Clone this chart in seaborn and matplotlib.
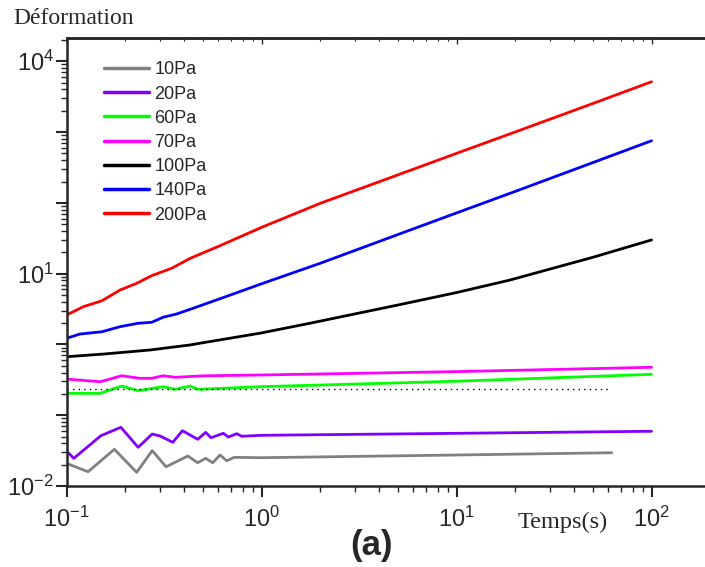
import matplotlib
matplotlib.use("Agg")
import matplotlib.pyplot as plt
from matplotlib.ticker import LogLocator, NullFormatter
import numpy as np
import pandas as pd
import seaborn as sns

# creep curves: time (s) -> deformation
x_10 = [0.1, 0.129, 0.176, 0.229, 0.275, 0.324, 0.419, 0.471, 0.517, 0.562, 0.613, 0.663, 0.725, 1.0, 10, 62.5]
y_10 = [0.0209, 0.0159, 0.033, 0.0156, 0.0316, 0.0187, 0.0265, 0.0213, 0.0246, 0.0213, 0.0274, 0.0227, 0.0254, 0.0251, 0.0274, 0.0295]

x_20 = [0.1, 0.109, 0.150, 0.19, 0.233, 0.275, 0.302, 0.351, 0.393, 0.471, 0.517, 0.551, 0.637, 0.676, 0.746, 0.791, 1.0, 10, 100]
y_20 = [0.0312, 0.0246, 0.0513, 0.0675, 0.0352, 0.0542, 0.0508, 0.0414, 0.0604, 0.0457, 0.0573, 0.0481, 0.0555, 0.0492, 0.0548, 0.0504, 0.052, 0.0555, 0.0593]

x_60 = [0.1, 0.149, 0.192, 0.233, 0.313, 0.360, 0.43, 0.474, 1.0, 10, 100]
y_60 = [0.204, 0.204, 0.258, 0.222, 0.253, 0.232, 0.258, 0.232, 0.253, 0.302, 0.378]

x_70 = [0.1, 0.149, 0.192, 0.238, 0.273, 0.313, 0.360, 0.5, 1.0, 10, 100]
y_70 = [0.324, 0.297, 0.361, 0.332, 0.332, 0.361, 0.343, 0.36, 0.370, 0.413, 0.475]

x_100 = [0.1, 0.155, 0.268, 0.43, 0.484, 0.982, 1.77, 5, 10, 18.8, 50, 100]
y_100 = [0.67, 0.731, 0.834, 0.982, 1.04, 1.44, 1.99, 3.6, 5.4, 8.12, 17, 29.9]

x_140 = [0.1, 0.117, 0.152, 0.188, 0.233, 0.273, 0.313, 0.367, 0.43, 0.6, 1, 2, 5, 10, 20, 50, 100]
y_140 = [1.22, 1.40, 1.51, 1.78, 1.99, 2.05, 2.42, 2.69, 3.13, 4.33, 7.18, 14.0, 35.6, 72, 145, 370, 753]

x_200 = [0.1, 0.122, 0.152, 0.188, 0.229, 0.273, 0.346, 0.43, 0.6, 1, 2, 5, 10, 20, 50, 100]
y_200 = [2.60, 3.41, 4.14, 5.86, 7.29, 9.34, 11.9, 16.4, 24.2, 45, 98.4, 248, 500, 1002, 2530, 5130]

# dotted reference level
x_ref = [0.1, 60]
y_ref = [0.232, 0.232]

labels = ["10Pa", "20Pa", "60Pa", "70Pa", "100Pa", "140Pa", "200Pa"]
colors = ["#808080", "#8000FF", "#00FF00", "#FF00FF", "#000000", "#0000FF", "#FF0000"]
series_x = [x_10, x_20, x_60, x_70, x_100, x_140, x_200]
series_y = [y_10, y_20, y_60, y_70, y_100, y_140, y_200]

x_ticks = [0.1, 1, 10, 100]
x_tick_labels = [r"$\mathregular{10^{-1}}$", r"$\mathregular{10^{0}}$",
                 r"$\mathregular{10^{1}}$", r"$\mathregular{10^{2}}$"]
y_ticks = [1e-2, 1e-1, 1e0, 1e1, 1e2, 1e3, 1e4]
y_tick_labels = [r"$\mathregular{10^{-2}}$", "", "", r"$\mathregular{10^{1}}$",
                 "", "", r"$\mathregular{10^{4}}$"]

frames = []
for lab, xs, ys in zip(labels, series_x, series_y):
    frames.append(pd.DataFrame({"t": xs, "d": ys, "stress": lab}))
df = pd.concat(frames, ignore_index=True)

sns.set_style("ticks")
plt.rcParams["font.family"] = ["Liberation Sans", "DejaVu Sans"]
plt.rcParams["mathtext.fontset"] = "custom"
plt.rcParams["mathtext.rm"] = "Liberation Sans"

fig = plt.figure(figsize=(7.05, 5.67), dpi=100)
ax = fig.add_axes([66.5 / 705, 1 - 486 / 567, 1 - 66.5 / 705, (486 - 38) / 567])

sns.lineplot(data=df, x="t", y="d", hue="stress", hue_order=labels,
             palette=dict(zip(labels, colors)), estimator=None, sort=False,
             units="stress", lw=2.0, ax=ax)
ax.plot(x_ref, y_ref, color="black", ls=(0, (1, 3)), lw=1.0)

ax.set_xscale("log")
ax.set_yscale("log")
ax.set_xlim(0.1, 188)
ax.set_ylim(0.01, 21300)

ax.set_xticks(x_ticks)
ax.set_xticklabels(x_tick_labels)
ax.set_yticks(y_ticks)
ax.set_yticklabels(y_tick_labels)
ax.xaxis.set_minor_locator(LogLocator(base=10, subs=np.arange(2, 10), numticks=20))
ax.yaxis.set_minor_locator(LogLocator(base=10, subs=np.arange(2, 10), numticks=20))
ax.xaxis.set_minor_formatter(NullFormatter())
ax.yaxis.set_minor_formatter(NullFormatter())
ax.tick_params(which="major", direction="out", length=8, width=1.5, labelsize=17)
ax.tick_params(which="minor", direction="out", length=4, width=1.0)
ax.tick_params(axis="x", which="major", pad=7)
ax.tick_params(axis="y", which="major", pad=1)

for side in ["left", "bottom", "top"]:
    ax.spines[side].set_linewidth(1.8)
ax.spines["right"].set_visible(False)

top = ax.secondary_xaxis("top")
top.set_xticks(x_ticks)
top.xaxis.set_minor_locator(LogLocator(base=10, subs=np.arange(2, 10), numticks=20))
top.tick_params(which="major", direction="in", length=4, width=1.0, labeltop=False)
top.tick_params(which="minor", direction="in", length=2.5, width=0.8)
top.xaxis.set_minor_formatter(NullFormatter())
top.spines["top"].set_linewidth(1.8)

ax.set_xlabel("")
ax.set_ylabel("")
leg = ax.legend(loc="upper left", bbox_to_anchor=(0.0587, 0.948), frameon=False,
                fontsize=13, handlelength=2.5, handletextpad=0.3,
                labelspacing=0.4, borderaxespad=0, borderpad=0)
for h in leg.get_lines():
    h.set_linewidth(2.5)

fig.text(13 / 705, 1 - 18 / 567, "Déformation", family=["Liberation Serif", "DejaVu Serif"],
         fontsize=17, va="center", ha="left")
fig.text(518 / 705, 1 - 522 / 567, "Temps(s)", family=["Liberation Serif", "DejaVu Serif"],
         fontsize=17.5, va="center", ha="left")
fig.text(372 / 705, 1 - 546 / 567, "(a)", fontsize=25, fontweight="bold",
         va="center", ha="center")

fig.savefig("out.png", dpi=100)
plt.close(fig)
